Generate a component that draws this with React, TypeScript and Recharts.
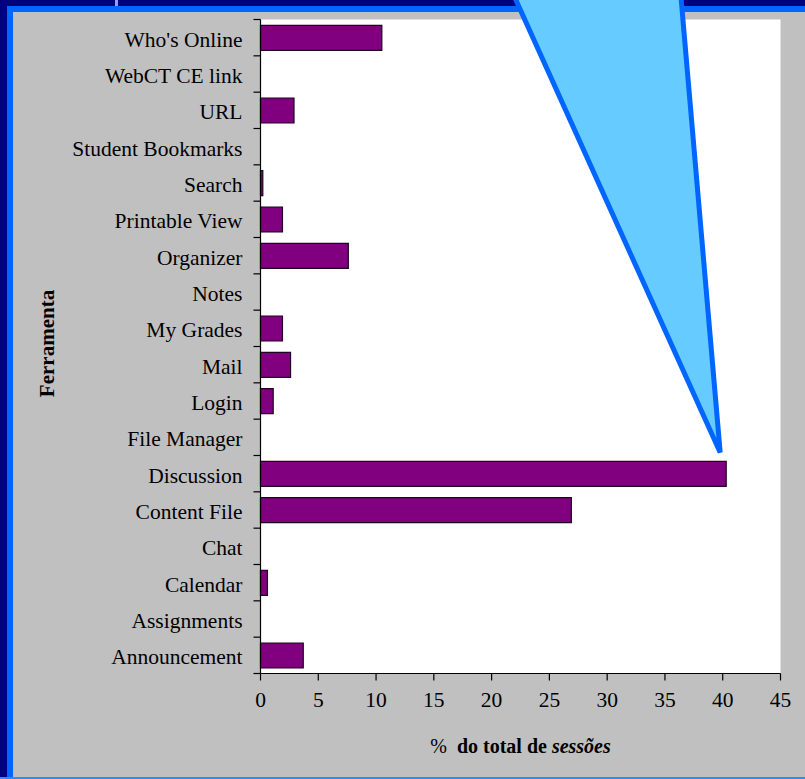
import React from 'react';
import { BarChart, Bar, XAxis, YAxis, CartesianGrid, Label } from 'recharts';

// WebCT tools, listed top to bottom
const tools = [
  "Who's Online",
  'WebCT CE link',
  'URL',
  'Student Bookmarks',
  'Search',
  'Printable View',
  'Organizer',
  'Notes',
  'My Grades',
  'Mail',
  'Login',
  'File Manager',
  'Discussion',
  'Content File',
  'Chat',
  'Calendar',
  'Assignments',
  'Announcement',
];

// % of all sessions using each tool
const sessionShare = [10.5, 0, 2.9, 0, 0.2, 1.9, 7.6, 0, 1.9, 2.6, 1.1, 0, 40.3, 26.9, 0, 0.6, 0, 3.7];

const xTicks = [0, 5, 10, 15, 20, 25, 30, 35, 40, 45];

const data = tools.map((tool, i) => ({ tool, share: sessionShare[i] }));

const W = 805;
const H = 779;
const PLOT_LEFT = 260.5;
const PLOT_RIGHT = 780.5;
const PLOT_TOP = 19.5;
const PLOT_BOTTOM = 673.5;
const PLOT_W = PLOT_RIGHT - PLOT_LEFT;
const PLOT_H = PLOT_BOTTOM - PLOT_TOP;
const BAND = PLOT_H / tools.length;
const X_MAX = xTicks[xTicks.length - 1];

const SERIF = "'Liberation Serif', 'Times New Roman', serif";
const FONT_SIZE = 21.5;

// Category tick: label plus Excel-style tick marks on the band boundaries
const ToolTick = (props: any) => {
  const { y, payload, index } = props;
  const top = y - BAND / 2;
  const bottom = y + BAND / 2;
  return (
    <g>
      <line x1={PLOT_LEFT - 7} x2={PLOT_LEFT} y1={top} y2={top} stroke="#000" strokeWidth={1.2} />
      {index === tools.length - 1 && (
        <line x1={PLOT_LEFT - 7} x2={PLOT_LEFT} y1={bottom} y2={bottom} stroke="#000" strokeWidth={1.2} />
      )}
      <text
        x={PLOT_LEFT - 18}
        y={y}
        dy="0.42em"
        textAnchor="end"
        fontFamily={SERIF}
        fontSize={FONT_SIZE}
        fill="#000"
      >
        {payload.value}
      </text>
    </g>
  );
};

const XTitle = (props: any) => {
  const vb = props.viewBox || { x: PLOT_LEFT, width: PLOT_W };
  const cx = vb.x + vb.width / 2;
  return (
    <text x={cx} y={PLOT_BOTTOM + 79} textAnchor="middle" fontFamily={SERIF} fontSize={20} fill="#000">
      <tspan>%</tspan>
      <tspan dx={10} fontWeight="bold">do total de</tspan>
      <tspan fontWeight="bold" fontStyle="italic"> sessões</tspan>
    </text>
  );
};

const YTitle = () => {
  const cx = 47;
  const cy = PLOT_TOP + PLOT_H / 2 - 3;
  return (
    <text
      x={cx}
      y={cy}
      transform={`rotate(-90 ${cx} ${cy})`}
      textAnchor="middle"
      dominantBaseline="central"
      fontFamily={SERIF}
      fontWeight="bold"
      fontSize={21}
      fill="#000"
    >
      Ferramenta
    </text>
  );
};

// Callout pointing at the Discussion bar
const discussionIdx = tools.indexOf('Discussion');
const tipX = PLOT_LEFT + (sessionShare[discussionIdx] / X_MAX) * PLOT_W - 6;
const tipY = PLOT_TOP + discussionIdx * BAND - 3;
const calloutPoints = `510.5,-12 680.2,-12 ${tipX},${tipY}`;

export default function App() {
  return (
    <div
      style={{
        position: 'absolute',
        left: 0,
        top: 0,
        width: W,
        height: H,
        background: '#000080',
        overflow: 'hidden',
      }}
    >
      <div style={{ position: 'absolute', left: 7, top: 6, right: 0, bottom: 0, background: '#0066ff' }} />
      <div style={{ position: 'absolute', left: 0, right: 0, bottom: 0, height: 2, background: '#3388ff' }} />
      <div style={{ position: 'absolute', left: 13, top: 12, right: 0, bottom: 2, background: '#c0c0c0' }} />
      <div style={{ position: 'absolute', left: 115, top: 0, width: 3, height: 6, background: '#9999ff' }} />
      <div style={{ position: 'absolute', left: 0, top: 0 }}>
        <BarChart
          width={W}
          height={H}
          data={data}
          layout="vertical"
          margin={{ top: PLOT_TOP, right: W - PLOT_RIGHT, bottom: 0, left: 0 }}
          barCategoryGap="16%"
        >
          <CartesianGrid fill="#ffffff" stroke="none" horizontal={false} vertical={false} />
          <XAxis
            type="number"
            domain={[0, X_MAX]}
            ticks={xTicks}
            interval={0}
            height={H - PLOT_BOTTOM}
            axisLine={{ stroke: '#000', strokeWidth: 1.2 }}
            tickLine={{ stroke: '#000', strokeWidth: 1.2 }}
            tickSize={7}
            tickMargin={11}
            tick={{ fontFamily: SERIF, fontSize: FONT_SIZE, fill: '#000' }}
          >
            <Label content={<XTitle />} />
          </XAxis>
          <YAxis
            type="category"
            dataKey="tool"
            width={PLOT_LEFT}
            interval={0}
            axisLine={{ stroke: '#000', strokeWidth: 1.2 }}
            tickLine={false}
            tick={<ToolTick />}
          >
            <Label content={<YTitle />} />
          </YAxis>
          <Bar dataKey="share" fill="#800080" stroke="#1f051f" strokeWidth={1.2} isAnimationActive={false} />
        </BarChart>
      </div>
      <svg
        width={W}
        height={H}
        style={{ position: 'absolute', left: 0, top: 0, pointerEvents: 'none' }}
      >
        <polygon points={calloutPoints} fill="#66ccff" stroke="#0066ff" strokeWidth={5} strokeLinejoin="miter" strokeMiterlimit={3} />
      </svg>
    </div>
  );
}
